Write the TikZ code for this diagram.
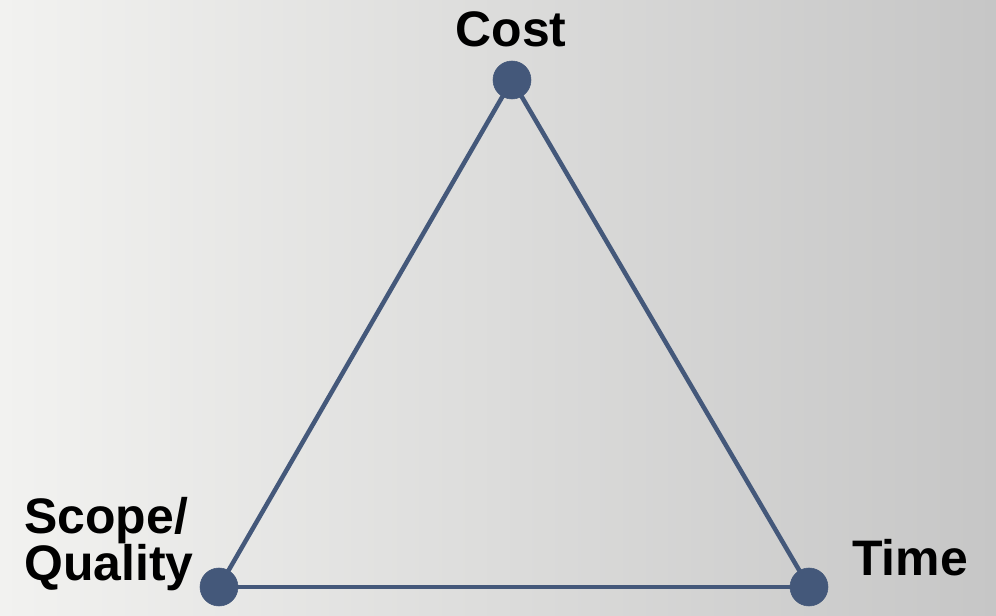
\documentclass[tikz,border=0pt]{standalone}
\usepackage{fontspec}
\setmainfont{Liberation Sans}
\definecolor{edgeblue}{HTML}{44587A}
\definecolor{bgleft}{HTML}{F2F2F0}
\definecolor{bgmid}{HTML}{E6E6E6}
\definecolor{bgright}{HTML}{C6C6C6}
\tikzset{
  side/.style={edgeblue, line width=3.2pt},
  corner/.style={font=\bfseries\fontsize{35.5}{24.8}\selectfont, inner sep=0pt}
}
\begin{document}
\begin{tikzpicture}[x=0.025cm, y=-0.025cm]
                          \useasboundingbox (0,0) rectangle (996,616);
                          \shade[left color=bgleft, middle color=bgmid, right color=bgright] (0,0) rectangle (996,616);
                          \coordinate (cost) at (512,80);
                          \coordinate (scope) at (219,587);
                          \coordinate (time) at (809,587);
                          \draw[side] (cost) -- (scope);
                          \draw[side] (cost) -- (time);
                          \draw[side] (scope) -- (time);
                          \filldraw[edgeblue] (cost) circle (19);
                          \filldraw[edgeblue] (scope) circle (19);
                          \filldraw[edgeblue] (time) circle (19);
                          \node[corner, anchor=base] (costlabel) at (511,47) {Cost};
                          \node[corner, anchor=base west] (timelabel) at (852,576) {Time};
                          \node[corner, anchor=base west, align=left] (scopelabel) at (24,581) {Scope/\\Quality};
                      \end{tikzpicture}
\end{document}
